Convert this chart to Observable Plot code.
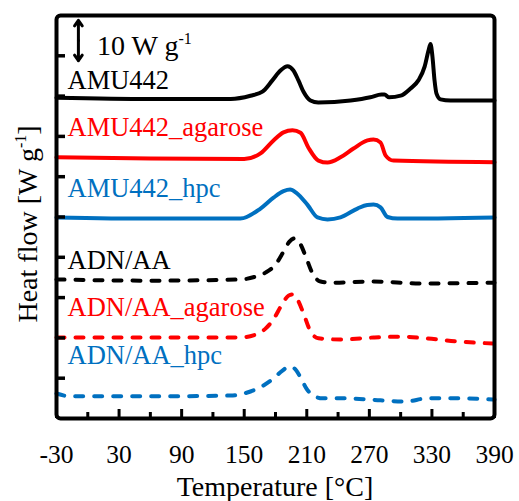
<!DOCTYPE html>
<html><head><meta charset="utf-8">
<script src="https://cdn.jsdelivr.net/npm/d3@7"></script>
<script src="https://cdn.jsdelivr.net/npm/@observablehq/plot@0.6"></script>
<style>body{margin:0;background:#fff}</style>
</head><body><div id="chart"></div>
<script>
// Axis ticks
const xTicksMajor = [-30, 30, 90, 150, 210, 270, 330, 390];
const xTicksMinor = [0, 60, 120, 180, 240, 300, 360];
const yTicks = [10, 20, 30, 40, 50, 60, 70, 80, 90];

// Series meta
const seriesNames = ["AMU442", "AMU442_agarose", "AMU442_hpc", "ADN/AA", "ADN/AA_agarose", "ADN/AA_hpc"];
const seriesColors = ["#000000", "#ff0000", "#0070c0", "#000000", "#ff0000", "#0070c0"];
const seriesDashed = [false, false, false, true, true, true];

// Series values (temperature °C, offset heat flow W/g)
const amu442_T = [-30, 60, 137, 156, 167.5, 177, 185, 191.5, 197, 202, 207, 213.5, 221, 252, 271, 281.6, 284.5, 289, 300, 309.5, 317, 323, 326.7, 328.6, 330.5, 332.5, 334.4, 338.2, 347.8, 390];
const amu442_Q = [79.6, 79.3, 79.3, 80.1, 81.1, 83.9, 86.4, 87.4, 86.4, 83.9, 81.0, 78.9, 78.4, 78.9, 79.7, 80.4, 80.4, 79.7, 80.1, 81.9, 83.9, 87.3, 91.3, 92.9, 89.8, 83.9, 80.6, 79.2, 78.9, 78.9];

const amuAgar_T = [-30, 60, 150, 165.6, 178.1, 187.7, 196.3, 204, 211.6, 221.2, 229.9, 242.3, 254.8, 268.2, 274, 280.7, 285.5, 293.1, 390];
const amuAgar_Q = [64.8, 64.5, 64.4, 65.8, 69.0, 71.0, 71.5, 70.9, 67.2, 64.0, 63.5, 64.8, 67.0, 69.0, 69.2, 68.5, 65.3, 64.0, 63.6];

const amuHpc_T = [-30, 60, 146.4, 165.6, 178.1, 187.7, 194, 200, 210.7, 220.3, 229.9, 242.3, 258.6, 268, 274, 280.7, 287.4, 297, 390];
const amuHpc_Q = [49.9, 49.6, 49.6, 52.1, 54.8, 56.4, 56.8, 56.0, 53.0, 49.9, 49.4, 49.9, 52.1, 53.0, 53.1, 52.4, 50.0, 49.6, 49.9];

const adn_T = [-30, 60, 146.4, 160.8, 170.4, 180, 187.7, 193.4, 198.2, 204, 209.7, 215.5, 223.2, 232.7, 274, 319, 390];
const adn_Q = [34.5, 34.2, 34.5, 35.2, 36.2, 38.2, 41.4, 43.9, 44.7, 43.2, 39.7, 36.0, 34.0, 33.7, 34.0, 33.5, 33.7];

const adnAgar_T = [-30, 60, 146.4, 160.8, 170.4, 178, 186.7, 192.5, 196.3, 201.1, 206.8, 213.6, 221.2, 242.3, 274, 299.9, 323.8, 354.5, 390];
const adnAgar_Q = [20.1, 20.1, 20.1, 20.8, 22.3, 24.6, 28.5, 30.5, 30.8, 29.5, 26.1, 21.6, 19.9, 19.6, 20.1, 20.3, 19.9, 19.1, 18.6];

const adnHpc_T = [-30, -16.6, 60, 136.8, 156, 168.5, 178, 186.7, 193.4, 198.2, 204, 209.7, 216.4, 225, 247, 280.7, 304.6, 325.7, 354.5, 390];
const adnHpc_Q = [6.2, 5.5, 5.5, 5.7, 6.7, 8.2, 9.9, 11.9, 12.9, 12.4, 10.2, 7.4, 5.7, 5.0, 5.0, 4.5, 4.2, 5.0, 5.0, 4.7];

// Scale bar: 10 W g-1
const scaleBarT = -9;
const scaleBarQ = [88.8, 98.8];

// Layout (pixel offsets of labels from each curve's start)
const labelDy = [-17, -30, -29, -19, -30, -38];

const seriesT = [amu442_T, amuAgar_T, amuHpc_T, adn_T, adnAgar_T, adnHpc_T];
const seriesQ = [amu442_Q, amuAgar_Q, amuHpc_Q, adn_Q, adnAgar_Q, adnHpc_Q];

const W = 519, H = 501, mL = 56, mR = 25, mT = 15, mB = 83;
const pxY = (H - mT - mB) / 100;
const pxX = (W - mL - mR) / 420;
const FONT = "'Liberation Serif', 'Times New Roman', serif";

const lineMarks = seriesNames.map((name, i) => {
  const rows = seriesT[i].map((t, j) => ({T: t, Q: seriesQ[i][j]}));
  return Plot.line(rows, {
    x: "T", y: "Q", stroke: seriesColors[i], strokeWidth: 4,
    curve: "monotone-x", strokeLinecap: "round", strokeLinejoin: "round",
    strokeDasharray: seriesDashed[i] ? "8,11" : null
  });
});

const labelMarks = seriesNames.map((name, i) =>
  Plot.text([{T: seriesT[i][0], Q: seriesQ[i][0], name}], {
    x: "T", y: "Q", text: "name", fill: seriesColors[i],
    textAnchor: "start", lineAnchor: "middle", fontSize: 26.5,
    dx: 11, dy: labelDy[i]
  })
);

const mid = (scaleBarQ[0] + scaleBarQ[1]) / 2;
const bar = [{x: scaleBarT, y1: mid, y2: scaleBarQ[1]}, {x: scaleBarT, y1: mid, y2: scaleBarQ[0]}];

const plot = Plot.plot({
  width: W, height: H,
  marginLeft: mL, marginRight: mR, marginTop: mT, marginBottom: mB,
  style: {fontFamily: FONT, fontSize: "25px", background: "#fff", color: "#000"},
  x: {domain: [-30, 390]},
  y: {domain: [0, 100], axis: null},
  marks: [
    ...lineMarks,
    Plot.ruleX(xTicksMajor, {x: d => d, y1: 0, y2: 9 / pxY, stroke: "#000", strokeWidth: 3}),
    Plot.ruleX(xTicksMinor, {x: d => d, y1: 0, y2: 6 / pxY, stroke: "#000", strokeWidth: 3}),
    Plot.ruleY(yTicks, {y: d => d, x1: -30, x2: -30 + 9 / pxX, stroke: "#000", strokeWidth: 3.5}),
    Plot.axisX(xTicksMajor, {tickSize: 0, tickPadding: 26, fontSize: 25.5, label: null, tickFormat: d => String(d)}),
    ...labelMarks,
    Plot.arrow(bar, {x: "x", y1: "y1", y2: "y2", stroke: "#000", strokeWidth: 3, headLength: 10, headAngle: 70}),
    Plot.frame({stroke: "#000", strokeWidth: 4, rx: 4})
  ]
});

document.getElementById("chart").appendChild(plot);
const svg = d3.select(plot);

svg.append("text").attr("x", (mL + W - mR) / 2).attr("y", 496)
  .attr("text-anchor", "middle").attr("font-size", 28).attr("fill", "#000")
  .text("Temperature [°C]");

const yt = svg.append("text").attr("transform", "translate(37,224) rotate(-90)")
  .attr("text-anchor", "middle").attr("font-size", 28).attr("fill", "#000");
yt.append("tspan").text("Heat flow [W g");
yt.append("tspan").attr("dy", -11).attr("font-size", 16).text("-1");
yt.append("tspan").attr("dy", 11).text("]");

const st = svg.append("text").attr("x", 97).attr("y", 55).attr("text-anchor", "start")
  .attr("font-size", 28).attr("fill", "#000");
st.append("tspan").text("10 W g");
st.append("tspan").attr("dy", -11).attr("font-size", 16).text("-1");
</script>
</body></html>
